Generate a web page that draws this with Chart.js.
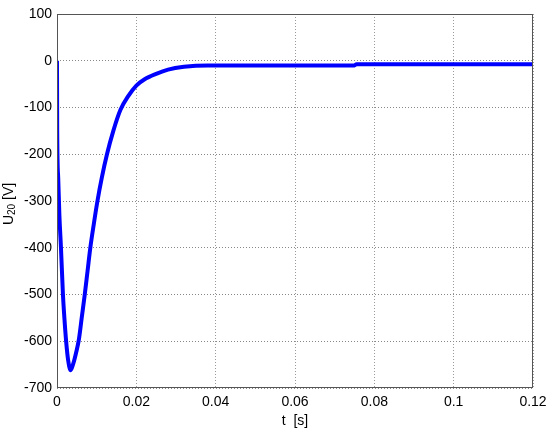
<!DOCTYPE html>
<html>
<head>
<meta charset="utf-8">
<script src="https://cdn.jsdelivr.net/npm/chart.js@4/dist/chart.umd.min.js"></script>
<style>
html,body{margin:0;padding:0;background:#fff;}
#wrap{width:550px;height:431px;position:relative;}
</style>
</head>
<body>
<div id="wrap"><canvas id="c" width="550" height="431"></canvas></div>
<script>
const tValues = [0, 0.00005, 0.0003, 0.0006, 0.001, 0.0015, 0.0019, 0.0023, 0.0028, 0.00345, 0.0041, 0.0048, 0.0055, 0.0062, 0.0070, 0.0077, 0.0084, 0.0093, 0.0102, 0.0113, 0.0126, 0.0142, 0.0160, 0.0180, 0.0200, 0.0220, 0.0250, 0.0280, 0.0320, 0.0380, 0.045, 0.06, 0.075, 0.0755, 0.09, 0.105, 0.12];
const uValues = [0, -150, -250, -330, -400, -500, -555, -600, -640, -662, -648, -625, -597, -552, -500, -450, -400, -348, -300, -250, -200, -150, -105, -75, -53, -40, -28, -19, -13, -10, -10, -10, -10, -7.5, -7.5, -7.5, -7.5];
const xTickLabels = ['0', '0.02', '0.04', '0.06', '0.08', '0.1', '0.12'];
const yTickLabels = ['-700', '-600', '-500', '-400', '-300', '-200', '-100', '0', '100'];
const xTitle = 't  [s]';
const yTitleMain = 'U';
const yTitleSub = '20';
const yTitleRest = ' [V]';

const points = tValues.map((t, i) => ({x: t, y: uValues[i]}));
const FONT = "Arial, 'Liberation Sans', sans-serif";

const framePlugin = {
  id: 'frame',
  afterDraw(chart) {
    const {ctx, chartArea: a} = chart;
    ctx.save();
    ctx.strokeStyle = '#555';
    ctx.lineWidth = 1;
    ctx.strokeRect(a.left + 0.5, a.top + 0.5, a.right - a.left - 1, a.bottom - a.top - 1);
    ctx.fillStyle = '#000';
    ctx.font = '14px ' + FONT;
    ctx.textAlign = 'center';
    ctx.textBaseline = 'middle';
    ctx.fillText(xTitle, (a.left + a.right) / 2, 421);
    ctx.translate(9, 204);
    ctx.rotate(-Math.PI / 2);
    ctx.textBaseline = 'middle';
    ctx.textAlign = 'left';
    const big = '14px ' + FONT, small = '10px ' + FONT;
    ctx.font = big; const w1 = ctx.measureText(yTitleMain).width;
    ctx.font = small; const w2 = ctx.measureText(yTitleSub).width;
    ctx.font = big; const w3 = ctx.measureText(yTitleRest).width;
    let x0 = -(w1 + w2 + w3) / 2;
    ctx.font = big; ctx.fillText(yTitleMain, x0, 0);
    ctx.font = small; ctx.fillText(yTitleSub, x0 + w1, 3);
    ctx.font = big; ctx.fillText(yTitleRest, x0 + w1 + w2, 0);
    ctx.restore();
  }
};

new Chart(document.getElementById('c'), {
  type: 'line',
  data: {
    datasets: [{
      data: points,
      borderColor: '#0000ff',
      borderWidth: 4,
      pointRadius: 0,
      fill: false,
      cubicInterpolationMode: 'monotone'
    }]
  },
  options: {
    responsive: false,
    animation: false,
    layout: {padding: {top: 14, right: 17, left: 0, bottom: 0}},
    plugins: {legend: {display: false}, tooltip: {enabled: false}},
    scales: {
      x: {
        type: 'linear', min: 0, max: 0.12,
        afterFit(s) { s.height = 43; s.paddingLeft = 0; s.paddingRight = 0; },
        ticks: {
          stepSize: 0.02, padding: 6, color: '#000', maxRotation: 0,
          font: {size: 14, family: FONT},
          callback: (v, i) => xTickLabels[i]
        },
        grid: {color: '#999', drawTicks: false, lineWidth: 1},
        border: {display: false, dash: [1, 2]}
      },
      y: {
        type: 'linear', min: -700, max: 100,
        afterFit(s) { s.width = 57; s.paddingTop = 0; s.paddingBottom = 0; },
        ticks: {
          stepSize: 100, padding: 5, color: '#000',
          font: {size: 14, family: FONT},
          callback: (v, i) => yTickLabels[i]
        },
        grid: {color: '#888', drawTicks: false, lineWidth: 1},
        border: {display: false, dash: [1, 2]}
      }
    }
  },
  plugins: [framePlugin]
});
</script>
</body>
</html>
